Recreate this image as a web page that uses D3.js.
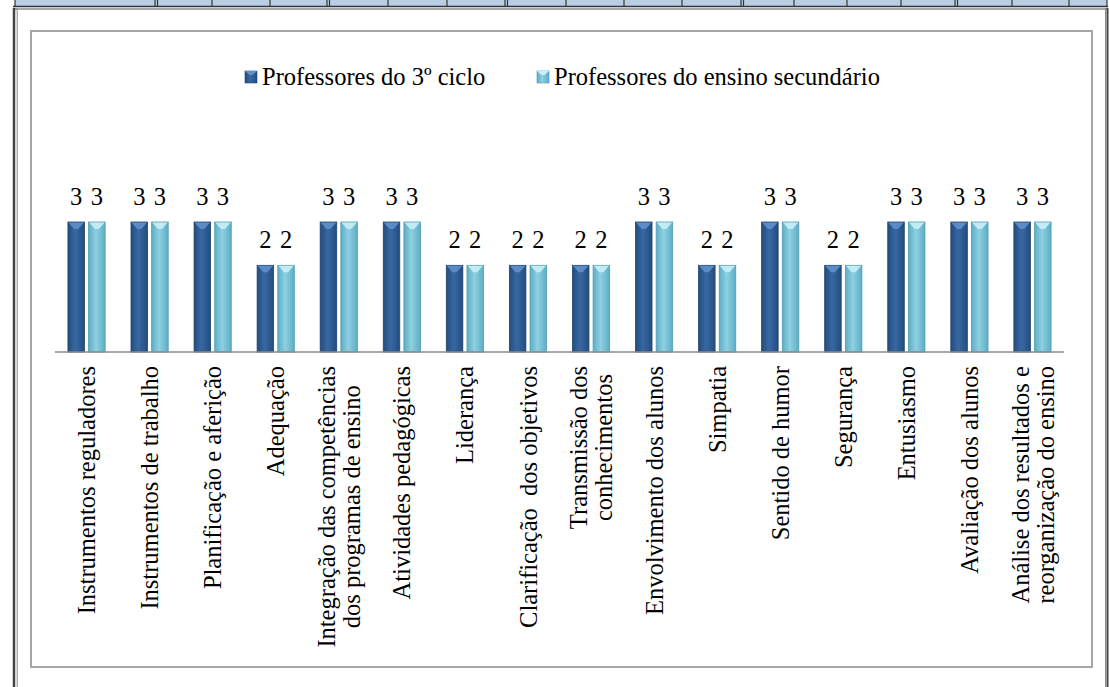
<!DOCTYPE html>
<html><head><meta charset="utf-8">
<script src="https://cdn.jsdelivr.net/npm/d3@7"></script>
<style>html,body{margin:0;padding:0;background:#fff}svg{display:block}</style>
</head><body>
<svg id="c" width="1109" height="687"></svg>
<script>
const categories = [
  "Instrumentos reguladores",
  "Instrumentos de trabalho",
  "Planificação e aferição",
  "Adequação",
  "Integração das competências\ndos programas de ensino",
  "Atividades pedagógicas",
  "Liderança",
  "Clarificação  dos objetivos",
  "Transmissão dos\nconhecimentos",
  "Envolvimento dos alunos",
  "Simpatia",
  "Sentido de humor",
  "Segurança",
  "Entusiasmo",
  "Avaliação dos alunos",
  "Análise dos resultados e\nreorganização do ensino"
];
const seriesNames = ["Professores do 3º ciclo", "Professores do ensino secundário"];
const prof3Ciclo = [3,3,3,2,3,3,2,2,2,3,2,3,2,3,3,3];
const profSecundario = [3,3,3,2,3,3,2,2,2,3,2,3,2,3,3,3];

const FONT = "'Liberation Serif', 'Times New Roman', serif";
const FS = 24.5;
const svg = d3.select("#c");
const W = 1109, H = 687;
svg.append("rect").attr("width", W).attr("height", H).attr("fill", "#fff");

// --- top partial table row ---
const cellEdges = [15, 155, 212, 270, 327, 388, 447, 505, 566, 624, 682, 741, 794, 847, 901, 955, 1012, 1069, 1107];
const doubles = [155, 327, 505, 741, 955];
svg.append("rect").attr("x", 15).attr("y", 0).attr("width", 1092).attr("height", 6).attr("fill", "#b9cde5");
svg.append("line").attr("x1", 13).attr("x2", 1108).attr("y1", 6.5).attr("y2", 6.5).attr("stroke", "#333").attr("stroke-width", 1.5);
cellEdges.forEach(x => {
  svg.append("line").attr("x1", x).attr("x2", x).attr("y1", 0).attr("y2", 7).attr("stroke", "#333").attr("stroke-width", 1.2);
  if (doubles.includes(x)) svg.append("line").attr("x1", x + 2.5).attr("x2", x + 2.5).attr("y1", 0).attr("y2", 7).attr("stroke", "#333").attr("stroke-width", 1.2);
});
// outer frame
svg.append("line").attr("x1", 13).attr("x2", 1108).attr("y1", 9).attr("y2", 9).attr("stroke", "#555").attr("stroke-width", 1.2);
[[14, "#444", 2.5], [17.2, "#888", 1], [1105.5, "#888", 1], [1107.5, "#444", 2]].forEach(([x, c, w]) => {
  svg.append("line").attr("x1", x).attr("x2", x).attr("y1", 8).attr("y2", H).attr("stroke", c).attr("stroke-width", w);
});

// chart box
svg.append("rect").attr("x", 31).attr("y", 31).attr("width", 1061).attr("height", 636)
  .attr("fill", "#fff").attr("stroke", "#a6a6a6").attr("stroke-width", 2);

// gradients
const defs = svg.append("defs");
function grad(id, edge, mid) {
  const g = defs.append("linearGradient").attr("id", id).attr("x1", "0").attr("x2", "1").attr("y1", "0").attr("y2", "0");
  g.append("stop").attr("offset", "0").attr("stop-color", edge);
  g.append("stop").attr("offset", "0.45").attr("stop-color", mid);
  g.append("stop").attr("offset", "1").attr("stop-color", edge);
}
grad("gA", "#234d7e", "#3868a3");
grad("gB", "#5daec5", "#8ed0e1");
const fills = ["url(#gA)", "url(#gB)"];
const strokes = ["#1e4470", "#4f9bb0"];
const bevels = ["#5f90cc", "#c8eef7"];

// scales
const baseY = 352;
const x0 = d3.scaleBand().domain(categories).range([55, 1064]).paddingInner(0.41).paddingOuter(0.205);
const x1 = d3.scaleBand().domain([0, 1]).range([0, x0.bandwidth()]).paddingInner(0.2);
const y = d3.scaleLinear().domain([0, 3]).range([baseY, 222]);

const data = categories.map((c, i) => ({ c, v: [prof3Ciclo[i], profSecundario[i]] }));

const groups = svg.append("g").selectAll("g").data(data).join("g")
  .attr("transform", d => `translate(${x0(d.c)},0)`);

groups.each(function(d) {
  const g = d3.select(this);
  d.v.forEach((v, s) => {
    const bx = x1(s), bw = x1.bandwidth(), top = y(v);
    g.append("rect").attr("x", bx).attr("y", top).attr("width", bw).attr("height", baseY - top)
      .attr("fill", fills[s]).attr("stroke", strokes[s]).attr("stroke-width", 0.8);
    g.append("path")
      .attr("d", `M${bx + 0.5},${top + 0.5} L${bx + bw - 0.5},${top + 0.5} L${bx + bw * 0.62},${top + 7} L${bx + bw * 0.38},${top + 7} Z`)
      .attr("fill", bevels[s]).attr("opacity", 0.9);
    g.append("text").attr("x", bx + bw / 2).attr("y", top - 17)
      .attr("text-anchor", "middle").attr("font-family", FONT)
      .attr("font-size", FS).attr("fill", "#000").text(v);
  });
});

// axis baseline
svg.append("line").attr("x1", x0.range()[0]).attr("x2", x0.range()[1]).attr("y1", baseY).attr("y2", baseY)
  .attr("stroke", "#8c8c8c").attr("stroke-width", 1.5);

// category labels
const labTop = 366, lineH = 25;
categories.forEach(c => {
  const lines = c.split("\n");
  const cx = x0(c) + x0.bandwidth() / 2;
  const g = svg.append("g");
  const texts = lines.map((ln, i) => g.append("text")
    .attr("font-family", FONT).attr("font-size", FS)
    .attr("fill", "#000").attr("text-anchor", "middle").attr("xml:space", "preserve").text(ln));
  const lens = texts.map(t => t.node().getComputedTextLength());
  const maxL = d3.max(lens);
  const midY = labTop + maxL / 2;
  texts.forEach((t, i) => {
    const off = (i - (lines.length - 1) / 2) * lineH;
    t.attr("transform", `translate(${cx + off},${midY}) rotate(-90)`).attr("dy", "0.35em");
  });
});

// legend
const legend = [{ x: 245, s: 0 }, { x: 537, s: 1 }];
legend.forEach(l => {
  svg.append("rect").attr("x", l.x).attr("y", 71).attr("width", 12).attr("height", 12)
    .attr("fill", fills[l.s]).attr("stroke", strokes[l.s]).attr("stroke-width", 0.6);
  svg.append("path").attr("d", `M${l.x},${71} L${l.x + 12},${71} L${l.x + 7.5},${75} L${l.x + 4.5},${75} Z`).attr("fill", bevels[l.s]);
  svg.append("text").attr("x", l.x + 17).attr("y", 85)
    .attr("font-family", FONT).attr("font-size", FS)
    .attr("fill", "#000").text(seriesNames[l.s]);
});
</script>
</body></html>
